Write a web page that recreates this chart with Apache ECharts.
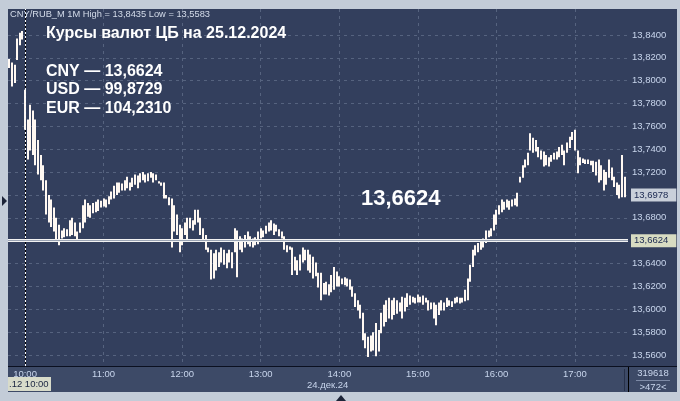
<!DOCTYPE html>
<html>
<head>
<meta charset="utf-8">
<style>
  html, body { margin: 0; padding: 0; background: #c3ccd8; }
  #chart { width: 680px; height: 401px; }
</style>
<script src="https://cdn.jsdelivr.net/npm/echarts@6/dist/echarts.min.js"></script>
</head>
<body>
<div id="chart"></div>
<script>
const FONT = "'Liberation Sans', Arial, sans-serif";

// bars: one every 2 minutes, first one 12 minutes before 10:00
const startMinute = -12;
const stepMinutes = 2;

const highs = [
  13.819, 13.816, 13.814, 13.837, 13.842, 13.8435, 13.792, 13.766, 13.779, 13.774,
  13.766, 13.748, 13.735, 13.726, 13.713, 13.700, 13.696, 13.689, 13.680, 13.674,
  13.669, 13.671, 13.670, 13.678, 13.680, 13.676, 13.668, 13.676, 13.691, 13.696,
  13.693, 13.691, 13.693, 13.694, 13.696, 13.695, 13.697, 13.696, 13.699, 13.703,
  13.708, 13.711, 13.711, 13.710, 13.713, 13.716, 13.711, 13.715, 13.718, 13.717,
  13.719, 13.720, 13.718, 13.719, 13.720, 13.719, 13.718, 13.712, 13.711, 13.711,
  13.700, 13.698, 13.697, 13.691, 13.683, 13.674, 13.671, 13.676, 13.680, 13.680,
  13.678, 13.687, 13.687, 13.680, 13.671, 13.665, 13.654, 13.652, 13.649, 13.652,
  13.650, 13.654, 13.652, 13.649, 13.652, 13.650, 13.671, 13.669, 13.664, 13.662,
  13.665, 13.668, 13.664, 13.662, 13.663, 13.668, 13.671, 13.669, 13.673, 13.676,
  13.678, 13.675, 13.674, 13.670, 13.668, 13.664, 13.656, 13.655, 13.654, 13.646,
  13.643, 13.648, 13.654, 13.652, 13.652, 13.648, 13.646, 13.641, 13.632, 13.632,
  13.623, 13.624, 13.622, 13.630, 13.637, 13.633, 13.629, 13.627, 13.628, 13.627,
  13.626, 13.620, 13.614, 13.608, 13.604, 13.597, 13.579, 13.576, 13.577, 13.580,
  13.588, 13.582, 13.597, 13.604, 13.608, 13.610, 13.608, 13.610, 13.608, 13.606,
  13.611, 13.610, 13.614, 13.612, 13.611, 13.610, 13.613, 13.611, 13.612, 13.610,
  13.608, 13.606, 13.606, 13.604, 13.606, 13.608, 13.606, 13.610, 13.608, 13.607,
  13.610, 13.611, 13.610, 13.610, 13.617, 13.627, 13.639, 13.652, 13.656, 13.658,
  13.661, 13.662, 13.669, 13.669, 13.671, 13.683, 13.687, 13.691, 13.696, 13.694,
  13.696, 13.695, 13.696, 13.697, 13.702, 13.716, 13.726, 13.731, 13.737, 13.754,
  13.750, 13.748, 13.742, 13.739, 13.738, 13.735, 13.733, 13.735, 13.737, 13.738,
  13.742, 13.744, 13.739, 13.746, 13.751, 13.755, 13.757, 13.739, 13.733, 13.732,
  13.731, 13.731, 13.730, 13.730, 13.729, 13.731, 13.726, 13.722, 13.720, 13.731,
  13.724, 13.716, 13.711, 13.709, 13.735, 13.716
];
const lows = [
  13.811, 13.795, 13.798, 13.818, 13.831, 13.836, 13.757, 13.731, 13.739, 13.735,
  13.726, 13.718, 13.713, 13.704, 13.683, 13.676, 13.672, 13.668, 13.661, 13.656,
  13.662, 13.663, 13.664, 13.664, 13.665, 13.664, 13.661, 13.667, 13.671, 13.676,
  13.681, 13.680, 13.684, 13.685, 13.686, 13.689, 13.690, 13.689, 13.692, 13.696,
  13.697, 13.700, 13.702, 13.704, 13.704, 13.706, 13.704, 13.707, 13.709, 13.706,
  13.711, 13.713, 13.711, 13.712, 13.715, 13.711, 13.713, 13.710, 13.708, 13.697,
  13.697, 13.691, 13.654, 13.668, 13.665, 13.650, 13.656, 13.665, 13.659, 13.671,
  13.669, 13.674, 13.676, 13.665, 13.661, 13.652, 13.650, 13.626, 13.627, 13.634,
  13.637, 13.641, 13.639, 13.636, 13.641, 13.636, 13.650, 13.628, 13.652, 13.650,
  13.654, 13.657, 13.655, 13.654, 13.656, 13.657, 13.662, 13.663, 13.666, 13.668,
  13.669, 13.665, 13.668, 13.664, 13.662, 13.652, 13.650, 13.652, 13.630, 13.634,
  13.630, 13.634, 13.641, 13.643, 13.634, 13.632, 13.627, 13.629, 13.619, 13.608,
  13.613, 13.613, 13.612, 13.615, 13.617, 13.620, 13.620, 13.622, 13.621, 13.620,
  13.617, 13.611, 13.602, 13.599, 13.592, 13.573, 13.566, 13.5583, 13.563, 13.564,
  13.559, 13.563, 13.579, 13.585, 13.589, 13.592, 13.591, 13.595, 13.596, 13.598,
  13.592, 13.598, 13.602, 13.604, 13.606, 13.605, 13.606, 13.606, 13.604, 13.606,
  13.599, 13.600, 13.592, 13.586, 13.595, 13.599, 13.599, 13.602, 13.603, 13.602,
  13.605, 13.606, 13.605, 13.606, 13.607, 13.608, 13.624, 13.637, 13.647, 13.650,
  13.652, 13.654, 13.658, 13.663, 13.664, 13.669, 13.674, 13.683, 13.685, 13.687,
  13.689, 13.687, 13.690, 13.691, 13.690, 13.711, 13.715, 13.724, 13.726, 13.739,
  13.737, 13.738, 13.733, 13.731, 13.725, 13.726, 13.725, 13.729, 13.731, 13.731,
  13.733, 13.735, 13.726, 13.737, 13.741, 13.748, 13.739, 13.719, 13.726, 13.728,
  13.727, 13.727, 13.726, 13.720, 13.717, 13.711, 13.713, 13.704, 13.709, 13.715,
  13.713, 13.707, 13.700, 13.697, 13.698, 13.698
];

const hourTicks = [0, 60, 120, 180, 240, 300, 360, 420];
const hourLabels = ['10:00', '11:00', '12:00', '13:00', '14:00', '15:00', '16:00', '17:00'];
const priceTicks = [13.56, 13.58, 13.60, 13.62, 13.64, 13.66, 13.68, 13.70,
  13.72, 13.74, 13.76, 13.78, 13.80, 13.82, 13.84];

const cbDate = '25.12.2024';
const currencies = ['CNY', 'USD', 'EUR'];
const rates = ['13,6624', '99,8729', '104,2310'];
const cbRate = 13.6624;
const lastPrice = 13.6978;
const sessionHigh = 13.8435;
const sessionLow = 13.5583;

const fmt = v => v.toFixed(4).replace('.', ',');
const bars = highs.map((h, i) => [startMinute + i * stepMinutes, lows[i], h]);

const chart = echarts.init(document.getElementById('chart'));

const smallText = { color: '#c8d5ec', fontSize: 9.5, fontFamily: FONT };
const frame = '#c3ccd8';

chart.setOption({
  animation: false,
  backgroundColor: '#333f5d',
  grid: { left: 8, right: 52, top: 9, bottom: 35 },
  title: [
    {
      text: 'CNY/RUB_M 1M High = ' + fmt(sessionHigh) + ' Low = ' + fmt(sessionLow),
      left: 10, top: 10, padding: 0,
      textStyle: { color: '#d4dcea', fontSize: 9.3, fontWeight: 'normal', fontFamily: FONT }
    },
    {
      text: 'Курсы валют ЦБ на ' + cbDate,
      left: 46, top: 25, padding: 0,
      textStyle: { color: '#fff', fontSize: 16, fontWeight: 'bold', fontFamily: FONT, lineHeight: 18 }
    },
    {
      text: currencies.map((c, i) => c + ' — ' + rates[i]).join('\n'),
      left: 46, top: 62, padding: 0,
      textStyle: { color: '#fff', fontSize: 16, fontWeight: 'bold', fontFamily: FONT, lineHeight: 18.5 }
    },
    {
      text: rates[0],
      left: 361, top: 188, padding: 0,
      textStyle: { color: '#fff', fontSize: 22, fontWeight: 'bold', fontFamily: FONT }
    }
  ],
  xAxis: {
    type: 'value',
    min: -13,
    max: 460.5,
    axisLine: { show: true, onZero: false, lineStyle: { color: '#0b1020', width: 1 } },
    axisTick: { show: false, customValues: hourTicks.slice(1) },
    axisLabel: {
      customValues: hourTicks,
      formatter: v => hourLabels[hourTicks.indexOf(v)],
      margin: 3,
      ...smallText
    },
    splitLine: { show: true, lineStyle: { color: '#56637f', type: [3, 4], width: 1 } }
  },
  yAxis: {
    type: 'value',
    position: 'right',
    min: 13.5504,
    max: 13.8627,
    axisLine: { show: true, lineStyle: { color: '#000', width: 1 } },
    axisTick: { show: false, customValues: priceTicks },
    axisLabel: { customValues: priceTicks, formatter: fmt, margin: 4, ...smallText },
    splitLine: { show: true, lineStyle: { color: '#56637f', type: [3, 4], width: 1 } }
  },
  series: [
    {
      type: 'custom',
      data: bars,
      encode: { x: 0, y: [1, 2] },
      renderItem(params, api) {
        const t = api.value(0);
        const top = api.coord([t, api.value(2)]);
        const bot = api.coord([t, api.value(1)]);
        return {
          type: 'rect',
          shape: {
            x: Math.round(top[0]) - 1,
            y: top[1],
            width: 2,
            height: Math.max(bot[1] - top[1], 1)
          },
          style: { fill: '#fff8f2' }
        };
      },
      markLine: {
        silent: true,
        symbol: 'none',
        animation: false,
        data: [
          {
            yAxis: cbRate,
            lineStyle: { color: '#f2f2f2', width: 3, type: 'solid' },
            label: {
              position: 'end', distance: 3, formatter: fmt(cbRate),
              color: '#1a2850', fontSize: 9.5, fontFamily: FONT,
              backgroundColor: '#d8dcc2', padding: [2, 8, 1, 3]
            }
          },
          {
            yAxis: lastPrice,
            lineStyle: { color: 'rgba(0,0,0,0)', width: 1 },
            label: {
              position: 'end', distance: 3, formatter: fmt(lastPrice),
              color: '#1a2850', fontSize: 9.5, fontFamily: FONT,
              backgroundColor: '#c9d0da', padding: [2, 8, 1, 3]
            }
          },
          {
            xAxis: 0,
            lineStyle: { color: '#ffffff', width: 1, type: [2, 2] },
            label: { show: false }
          }
        ]
      }
    },
    {
      type: 'line',
      data: [],
      markLine: {
        silent: true,
        symbol: 'none',
        animation: false,
        data: [{ yAxis: cbRate, lineStyle: { color: '#9ba4b4', width: 1, type: 'solid' }, label: { show: false } }]
      }
    }
  ],
  graphic: [
    // bottom time strip
    { type: 'rect', z: -1, shape: { x: 8, y: 367, width: 669, height: 25 }, style: { fill: '#3d4a67' } },
    { type: 'rect', shape: { x: 628, y: 366, width: 1, height: 26 }, style: { fill: '#000' } },
    { type: 'rect', shape: { x: 628, y: 366, width: 49, height: 1 }, style: { fill: '#0b1020' } },
    { type: 'rect', shape: { x: 624, y: 369, width: 1, height: 22 }, style: { fill: '#27314a' } },
    // frame
    { type: 'rect', z: 100, shape: { x: 0, y: 0, width: 680, height: 9 }, style: { fill: frame } },
    { type: 'rect', z: 100, shape: { x: 0, y: 0, width: 8, height: 401 }, style: { fill: frame } },
    { type: 'rect', z: 100, shape: { x: 677, y: 0, width: 3, height: 401 }, style: { fill: frame } },
    { type: 'rect', z: 100, shape: { x: 0, y: 392, width: 680, height: 9 }, style: { fill: frame } },
    { type: 'polygon', z: 101, shape: { points: [[2, 196], [7, 201], [2, 206]] }, style: { fill: '#1c2438' } },
    { type: 'polygon', z: 101, shape: { points: [[336, 401], [341, 395], [346, 401]] }, style: { fill: '#1c2438' } },
    // bottom labels
    { type: 'rect', shape: { x: 8, y: 377, width: 43, height: 14 }, style: { fill: '#d8dbca' } },
    { type: 'text', x: 9, y: 384, style: { text: '.12 10:00', fill: '#1a2440', font: '9.5px ' + FONT, verticalAlign: 'middle' } },
    { type: 'text', x: 307, y: 385, style: { text: '24.дек.24', fill: '#c8d5ec', font: '9.5px ' + FONT, verticalAlign: 'middle' } },
    { type: 'text', x: 653, y: 373, style: { text: '319618', fill: '#c8d5ec', font: '9.5px ' + FONT, align: 'center', verticalAlign: 'middle' } },
    { type: 'rect', shape: { x: 636, y: 380, width: 34, height: 1 }, style: { fill: '#7d8aa6' } },
    { type: 'text', x: 653, y: 387, style: { text: '>472<', fill: '#c8d5ec', font: '9.5px ' + FONT, align: 'center', verticalAlign: 'middle' } }
  ]
});
</script>
</body>
</html>
